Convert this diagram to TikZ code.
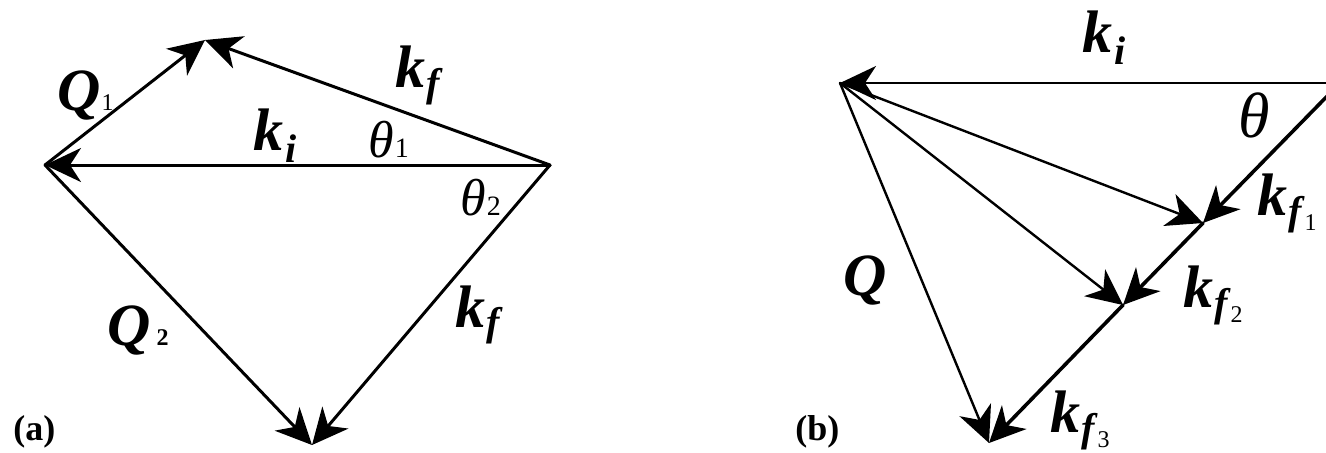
\documentclass[tikz,border=0pt]{standalone}
\usepackage{fontspec}
\setmainfont{Liberation Serif}
\usetikzlibrary{arrows.meta}
\newcommand\bi[2]{{\fontsize{#1}{#1}\selectfont\bfseries\itshape #2}}
\newcommand\dgt[2]{{\fontsize{#1}{#1}\selectfont #2}}
\newcommand\bdgt[2]{{\fontsize{#1}{#1}\selectfont\bfseries #2}}
\newcommand\thet[1]{{\fontsize{#1}{#1}\selectfont\itshape θ}}
\newcommand\kf[1]{\bi{30}{k}\kern0.5pt\raisebox{-4.5pt}{\bi{20}{f}\kern1.5pt\raisebox{-3pt}{\dgt{12}{#1}}}}
\begin{document}
\begin{tikzpicture}[x=0.5pt,y=-0.5pt,
  vec/.style={line width=1.5pt,line cap=round,-{Stealth[length=18pt,width=17pt,inset=5.5pt]}},
  thinvec/.style={line width=1.2pt,line cap=round,-{Stealth[length=18pt,width=17pt,inset=5.5pt]}},
  lbl/.style={inner sep=0pt,anchor=base west}]
\useasboundingbox (0,0) rectangle (1326,452);
\clip (0,0) rectangle (1326,452);
% ---------- (a) ----------
\coordinate (A) at (45,165);
\coordinate (B) at (205,40);
\coordinate (C) at (550,165);
\coordinate (D) at (312,445);
\draw[vec] (A) -- (B);
\draw[vec] (C) -- (B);
\draw[vec] (C) -- (A);
\draw[vec] (A) -- (D);
\draw[vec] (C) -- (D);
\node[lbl] (lQ1) at (57,110) {\bi{30}{Q}\kern0.5pt\dgt{12}{1}};
\node[lbl] (lQ2) at (107,345) {\bi{30}{Q}\kern3pt\bdgt{12}{2}};
\node[lbl] (lki) at (253,150) {\bi{30}{k}\kern1pt\raisebox{-6pt}{\bi{20}{i}}};
\node[lbl] (lkf1) at (395,87) {\bi{30}{k}\kern0.5pt\raisebox{-4.5pt}{\bi{20}{f}}};
\node[lbl] (lkf2) at (455,327) {\bi{30}{k}\kern0.5pt\raisebox{-4pt}{\bi{20}{f}}};
\node[lbl] (lt1) at (368,157) {\thet{26}\kern0.5pt\dgt{14}{1}};
\node[lbl] (lt2) at (460,215) {\thet{26}\kern0.5pt\dgt{14}{2}};
\node[lbl] (la) at (13,440) {\bdgt{18}{(a)}};
% ---------- (b) ----------
\coordinate (P) at (840,83);
\coordinate (R) at (1340,83);
\coordinate (F1) at (1203,223);
\coordinate (F2) at (1123,305);
\coordinate (F3) at (989,443);
\draw[vec,line width=1.3pt] (R) -- (P);
\draw[vec,line width=1.8pt] (R) -- (F1);
\draw[vec,line width=1.8pt] (F1) -- (F2);
\draw[vec,line width=1.8pt] (F2) -- (F3);
\draw[thinvec] (P) -- (F1);
\draw[thinvec] (P) -- (F2);
\draw[thinvec] (P) -- (F3);
\node[lbl] (lkib) at (1082,52) {\bi{30}{k}\kern1pt\raisebox{-6pt}{\bi{20}{i}}};
\node[lbl] (ltb) at (1238,137) {\thet{32}};
\node[lbl] (lkf1b) at (1257,215) {\kf{1}};
\node[lbl] (lkf2b) at (1183,307) {\kf{2}};
\node[lbl] (lkf3b) at (1050,432) {\kf{3}};
\node[lbl] (lQb) at (843,295) {\bi{30}{Q}};
\node[lbl] (lb) at (795,440) {\bdgt{18}{(b)}};
\end{tikzpicture}
\end{document}
